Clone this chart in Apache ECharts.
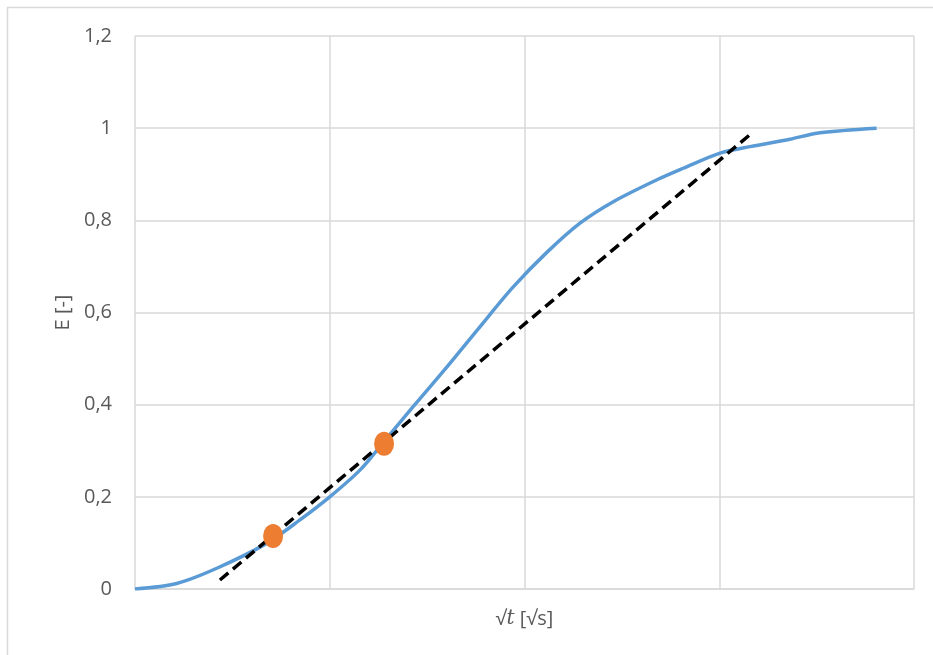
<!DOCTYPE html>
<html><head><meta charset="utf-8">
<script src="https://cdn.jsdelivr.net/npm/echarts@6/dist/echarts.min.js"></script>
<style>html,body{margin:0;padding:0;background:#fff}#c{width:933px;height:655px}</style>
</head><body><div id="c"></div>
<script>
const curveX = [0, 0.214, 0.42, 0.676, 0.847, 1.0, 1.155, 1.273, 1.427, 1.602, 1.771, 1.941, 2.116, 2.285, 2.454, 2.68, 2.815, 3.004, 3.158, 3.363, 3.517, 3.808];
const curveY = [0, 0.012, 0.045, 0.099, 0.150, 0.200, 0.258, 0.317, 0.395, 0.482, 0.569, 0.655, 0.731, 0.794, 0.840, 0.888, 0.913, 0.946, 0.960, 0.976, 0.990, 1.0];
const pointX = [0.709, 1.279];
const pointY = [0.115, 0.315];
const tangentX = [0.436, 3.168];
const tangentY = [0.0195, 0.9896];
const yTicks = [0, 0.2, 0.4, 0.6, 0.8, 1, 1.2];

const zip = (a, b) => a.map((v, i) => [v, b[i]]);
const chart = echarts.init(document.getElementById('c'));
chart.setOption({
  animation: false,
  graphic: [{type: 'rect', shape: {x: 7.5, y: 7.5, width: 940, height: 660}, style: {fill: 'none', stroke: '#d9d9d9', lineWidth: 1.5}}],
  grid: {left: 135, right: 19, top: 36, bottom: 66, containLabel: false},
  xAxis: {
    type: 'value', min: 0, max: 4, interval: 1,
    axisLabel: {show: false}, axisTick: {show: false},
    axisLine: {show: true, lineStyle: {color: '#d9d9d9', width: 1.5}},
    splitLine: {show: true, lineStyle: {color: '#d9d9d9', width: 1.5}},
    name: '{a|√}{b|t}{a| [√s]}', nameLocation: 'middle', nameGap: 20,
    nameTextStyle: {rich: {
      a: {fontFamily: 'Open Sans', fontSize: 20, color: '#595959'},
      b: {fontFamily: 'DejaVu Serif', fontStyle: 'italic', fontSize: 20, color: '#595959'}
    }}
  },
  yAxis: {
    type: 'value', min: 0, max: 1.2, interval: 0.2,
    axisLine: {show: false}, axisTick: {show: false},
    splitLine: {show: true, lineStyle: {color: '#d9d9d9', width: 1.5}},
    axisLabel: {fontFamily: 'Open Sans', fontSize: 20, color: '#595959', margin: 23,
      formatter: v => { const t = yTicks.find(x => Math.abs(x - v) < 1e-9); return String(+(t ?? v).toFixed(1)).replace('.', ','); }},
    name: 'E [-]', nameLocation: 'middle', nameGap: 62, nameRotate: 90,
    nameTextStyle: {fontFamily: 'Open Sans', fontSize: 20, color: '#595959'}
  },
  series: [
    {type: 'line', data: zip(curveX, curveY), smooth: 0.3, showSymbol: false,
     lineStyle: {color: '#5b9bd5', width: 3.5}, z: 2},
    {type: 'line', data: zip(tangentX, tangentY), showSymbol: false,
     lineStyle: {color: '#000', width: 3.5, type: [11, 6]}, z: 3},
    {type: 'scatter', data: zip(pointX, pointY), symbol: 'circle', symbolSize: [20, 24],
     itemStyle: {color: '#ed7d31', opacity: 1}, z: 4}
  ]
});
</script></body></html>
